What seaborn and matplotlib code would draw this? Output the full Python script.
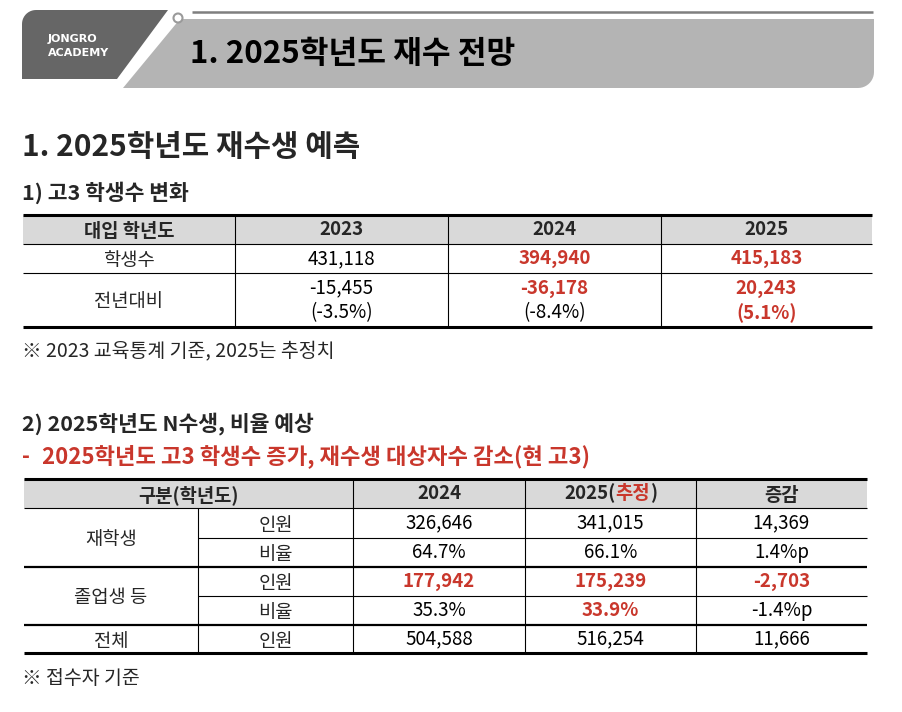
import numpy as np
import matplotlib
matplotlib.use("Agg")
import matplotlib.pyplot as plt
from matplotlib.patches import Polygon, Rectangle, Circle
import seaborn as sns

# ---- data ----
t1_years = ["2023", "2024", "2025"]
t1_students = [431118, 394940, 415183]
t1_change = [-15455, -36178, 20243]
t1_change_pct = [-3.5, -8.4, 5.1]
t1_red = [False, True, True]
t1_pct_red = [False, False, True]

t2_years = ["2024", "2025"]
t2_groups = ["재학생", "졸업생 등", "전체"]
enrolled_count = [326646, 341015]
enrolled_ratio = [64.7, 66.1]
grad_count = [177942, 175239]
grad_ratio = [35.3, 33.9]
total_count = [504588, 516254]

RED = "#c9372c"
GRAY_HEAD = "#d9d9d9"

sns.set_theme(style="white")
plt.rcParams["font.family"] = ["Noto Sans CJK KR", "DejaVu Sans"]

fig = plt.figure(figsize=(9.03, 7.12), dpi=100)
ax = fig.add_axes([0, 0, 1, 1])
ax.set_xlim(0, 903)
ax.set_ylim(712, 0)
ax.axis("off")


def arc(cx, cy, r, a0, a1, n=12):
    t = np.radians(np.linspace(a0, a1, n))
    return list(zip(cx + r * np.cos(t), cy + r * np.sin(t)))


# ---- page header ----
dark = [(22, 79)] + arc(36, 24, 14, 180, 270) + [(168, 10), (117, 79)]
ax.add_patch(Polygon(dark, closed=True, fc="#666666", ec="none"))
light = [(123, 88), (180, 19), (874, 19)] + arc(858, 72, 16, 0, 90) + [(123, 88)]
ax.add_patch(Polygon(light, closed=True, fc="#b4b4b4", ec="none"))
ax.plot([192, 873], [12, 12], color="#7f7f7f", lw=1.8, solid_capstyle="butt")
ax.add_patch(Circle((178, 18), 4.5, fc="white", ec="#9a9a9a", lw=1.5))
ax.text(48, 39, "JONGRO", color="white", fontsize=8, fontweight="bold",
        family="DejaVu Sans", va="center")
ax.text(48, 53, "ACADEMY", color="white", fontsize=8, fontweight="bold",
        family="DejaVu Sans", va="center")
ax.text(190, 54, "1. 2025학년도 재수 전망", fontsize=22.5, fontweight="bold",
        color="black", va="center")

ax.text(22, 147, "1. 2025학년도 재수생 예측", fontsize=21.5, fontweight="bold", va="center")
ax.text(22, 193, "1) 고3 학생수 변화", fontsize=15.5, fontweight="bold", va="center")

FS = 13.5
KO = 2  # Korean-only labels sit a little high with va="center"


def hline(y, x0, x1, lw):
    ax.plot([x0, x1], [y, y], color="black", lw=lw, solid_capstyle="butt")


def vline(x, y0, y1):
    ax.plot([x, x], [y0, y1], color="black", lw=0.8, solid_capstyle="butt")


# ---- table 1 ----
c1 = [23, 235, 448, 661, 872]
r1 = [215, 244, 273, 327]
ax.add_patch(Rectangle((c1[0], r1[0]), c1[-1] - c1[0], r1[1] - r1[0], fc=GRAY_HEAD, ec="none"))
hline(r1[0], c1[0], c1[-1], 2.2)
hline(r1[1], c1[0], c1[-1], 0.8)
hline(r1[2], c1[0], c1[-1], 0.8)
hline(r1[3], c1[0], c1[-1], 2.2)
for x in c1[1:-1]:
    vline(x, r1[0], r1[3])

mid = lambda a, b: (a + b) / 2
ax.text(mid(c1[0], c1[1]), mid(r1[0], r1[1]) + KO, "대입 학년도", fontsize=FS, fontweight="bold", ha="center", va="center")
ax.text(mid(c1[0], c1[1]), mid(r1[1], r1[2]) + KO, "학생수", fontsize=FS, ha="center", va="center")
ax.text(mid(c1[0], c1[1]), mid(r1[2], r1[3]) + KO, "전년대비", fontsize=FS, ha="center", va="center")
for i, yr in enumerate(t1_years):
    xc = mid(c1[i + 1], c1[i + 2])
    col = RED if t1_red[i] else "black"
    fw = "bold" if t1_red[i] else "normal"
    pcol = RED if t1_pct_red[i] else "black"
    pfw = "bold" if t1_pct_red[i] else "normal"
    ax.text(xc, mid(r1[0], r1[1]), yr, fontsize=FS, fontweight="bold", ha="center", va="center")
    ax.text(xc, mid(r1[1], r1[2]), f"{t1_students[i]:,}", fontsize=FS, color=col, fontweight=fw,
            ha="center", va="center")
    ax.text(xc, 288, f"{t1_change[i]:,}", fontsize=FS, color=col, fontweight=fw, ha="center", va="center")
    ax.text(xc, 313, f"({t1_change_pct[i]:.1f}%)", fontsize=FS, color=pcol, fontweight=pfw,
            ha="center", va="center")

ax.text(22, 351, "※ 2023 교육통계 기준, 2025는 추정치", fontsize=14, va="center")

# ---- section 2 ----
ax.text(22, 424, "2) 2025학년도 N수생, 비율 예상", fontsize=15.5, fontweight="bold", va="center")
ax.text(22, 456, "-", fontsize=15.5, fontweight="bold", color=RED, va="center")
ax.text(42, 456, "2025학년도 고3 학생수 증가, 재수생 대상자수 감소(현 고3)", fontsize=16,
        fontweight="bold", color=RED, va="center")

c2 = [24, 198, 353, 525, 696, 867]
r2 = [479, 508, 538, 567, 596, 625, 653]
ax.add_patch(Rectangle((c2[0], r2[0]), c2[-1] - c2[0], r2[1] - r2[0], fc=GRAY_HEAD, ec="none"))
hline(r2[0], c2[0], c2[-1], 2.2)
hline(r2[1], c2[0], c2[-1], 0.8)
hline(r2[2], c2[1], c2[-1], 0.8)
hline(r2[3], c2[0], c2[-1], 1.6)
hline(r2[4], c2[1], c2[-1], 0.8)
hline(r2[5], c2[0], c2[-1], 1.6)
hline(r2[6], c2[0], c2[-1], 2.2)
vline(c2[1], r2[1], r2[6])
for x in c2[2:-1]:
    vline(x, r2[0], r2[6])

ax.text(mid(c2[0], c2[2]), mid(r2[0], r2[1]) + KO, "구분(학년도)", fontsize=FS, fontweight="bold",
        ha="center", va="center")
ax.text(mid(c2[2], c2[3]), mid(r2[0], r2[1]), t2_years[0], fontsize=FS, fontweight="bold",
        ha="center", va="center")
# "2025(추정)" with red 추정
hx = mid(c2[3], c2[4])
hy = mid(r2[0], r2[1])
t_a = ax.text(hx, hy, t2_years[1] + "(", fontsize=FS, fontweight="bold", ha="right", va="center")
t_b = ax.text(hx, hy, "추정", fontsize=FS, fontweight="bold", color=RED, ha="left", va="center")
t_c = ax.text(hx, hy, ")", fontsize=FS, fontweight="bold", ha="left", va="center")
fig.canvas.draw()
inv = ax.transData.inverted()
wa = np.diff(inv.transform(t_a.get_window_extent().get_points())[:, 0])[0]
wb = np.diff(inv.transform(t_b.get_window_extent().get_points())[:, 0])[0]
wc = np.diff(inv.transform(t_c.get_window_extent().get_points())[:, 0])[0]
start = hx - (wa + wb + wc) / 2
t_a.set_x(start + wa)
t_b.set_x(start + wa)
t_c.set_x(start + wa + wb)
ax.text(mid(c2[4], c2[5]), hy + KO, "증감", fontsize=FS, fontweight="bold", ha="center", va="center")

ax.text(mid(c2[0], c2[1]), r2[2] + KO, t2_groups[0], fontsize=FS, ha="center", va="center")
ax.text(mid(c2[0], c2[1]), r2[4] + KO, t2_groups[1], fontsize=FS, ha="center", va="center")
ax.text(mid(c2[0], c2[1]), mid(r2[5], r2[6]) + KO, t2_groups[2], fontsize=FS, ha="center", va="center")

rows = [
    ("인원", enrolled_count, False),
    ("비율", enrolled_ratio, True),
    ("인원", grad_count, False),
    ("비율", grad_ratio, True),
    ("인원", total_count, False),
]
red_cells = {(2, 0), (2, 1), (2, 2), (3, 1)}
for k, (lab, vals, is_pct) in enumerate(rows):
    yc = mid(r2[k + 1], r2[k + 2])
    ax.text(mid(c2[1], c2[2]), yc + KO, lab, fontsize=FS, ha="center", va="center")
    diff = vals[1] - vals[0]
    if is_pct:
        cells = [f"{vals[0]:.1f}%", f"{vals[1]:.1f}%", f"{diff:.1f}%p"]
    else:
        cells = [f"{vals[0]:,}", f"{vals[1]:,}", f"{diff:,}"]
    for j, s in enumerate(cells):
        red = (k, j) in red_cells
        ax.text(mid(c2[j + 2], c2[j + 3]), yc, s, fontsize=FS, ha="center", va="center",
                color=RED if red else "black", fontweight="bold" if red else "normal")

ax.text(22, 678, "※ 접수자 기준", fontsize=14, va="center")

fig.savefig("out.png", dpi=100, facecolor="white")
